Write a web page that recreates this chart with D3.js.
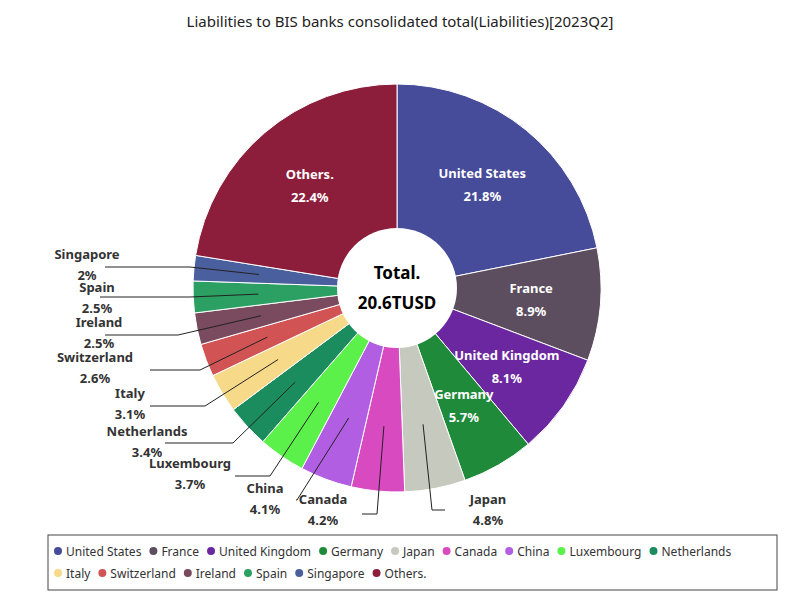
<!DOCTYPE html>
<html><head><meta charset="utf-8">
<script src="https://cdn.jsdelivr.net/npm/d3@7"></script>
<style>body{margin:0;background:#fff;font-family:"Noto Sans",sans-serif}</style>
</head><body><svg id="chart" width="800" height="600"></svg>
<script>
// Data
const countries = ["United States","France","United Kingdom","Germany","Japan","Canada","China","Luxembourg","Netherlands","Italy","Switzerland","Ireland","Spain","Singapore","Others."];
const shares = [21.8,8.9,8.1,5.7,4.8,4.2,4.1,3.7,3.4,3.1,2.6,2.5,2.5,2,22.4];
const colors = ["#464b9a","#5c4e5e","#6a27a0","#1e8a3a","#c6c9bd","#d84ac0","#b25ee2","#5cf04a","#1a8c5e","#f7d98a","#d25353","#7a4a5e","#2ba062","#4a5f9e","#8c1d3b"];
const insideLabels = ["United States","France","United Kingdom","Germany","Others."];
// label layout for outside labels: [text x, text y, line start x, line y, elbow x]
const outsideLayout = {
  "Japan":[488,504,445,510,432],
  "Canada":[323,504,362,514,377],
  "China":[265,493,296,500,297],
  "Luxembourg":[190,468,235,476,270],
  "Netherlands":[147,436,165,443,233],
  "Italy":[130,398,150,406,205],
  "Switzerland":[95,362,150,370,200],
  "Ireland":[99,327,105,335,178],
  "Spain":[97,292,100,297,190],
  "Singapore":[87,259,105,267,190]
};

const svg = d3.select("#chart");
svg.append("text").attr("x",400).attr("y",27).attr("text-anchor","middle")
  .style("font-size","15px").style("fill","#222")
  .text("Liabilities to BIS banks consolidated total(Liabilities)[2023Q2]");

const cx = 397, cy = 288, R = 204, r0 = 60;
const data = countries.map((c,i)=>({name:c,value:shares[i],color:colors[i]}));
const pie = d3.pie().value(d=>d.value).sort(null);
const arc = d3.arc().innerRadius(0).outerRadius(R);
const arcs = pie(data);
const g = svg.append("g").attr("transform",`translate(${cx},${cy})`);

g.selectAll("path").data(arcs).enter().append("path")
  .attr("d",arc).attr("fill",d=>d.data.color)
  .attr("stroke","#fff").attr("stroke-width",1);

g.append("circle").attr("r",r0).attr("fill","#fff");
g.append("text").attr("y",-9).attr("text-anchor","middle")
  .style("font-size","17px").style("font-weight","bold").text("Total.");
g.append("text").attr("y",21).attr("text-anchor","middle")
  .style("font-size","17px").style("font-weight","bold").text("20.6TUSD");

// inside labels
const labelArc = d3.arc().innerRadius(R*0.66).outerRadius(R*0.66);
arcs.filter(d=>insideLabels.includes(d.data.name)).forEach(d=>{
  const [x,y] = labelArc.centroid(d);
  const t = g.append("text").attr("text-anchor","middle")
    .style("font-size","13px").style("font-weight","bold").style("fill","#fff");
  t.append("tspan").attr("x",x).attr("y",y-6).text(d.data.name);
  t.append("tspan").attr("x",x).attr("y",y+17).text(d.data.value+"%");
});

// outside labels with leader lines
const pointArc = d3.arc().innerRadius(R*0.68).outerRadius(R*0.68);
arcs.filter(d=>outsideLayout[d.data.name]).forEach(d=>{
  const [tx,ty,sx,ly,ex] = outsideLayout[d.data.name];
  const [px,py] = pointArc.centroid(d);
  svg.append("polyline")
    .attr("points",`${sx},${ly} ${ex},${ly} ${px+cx},${py+cy}`)
    .attr("fill","none").attr("stroke","#222").attr("stroke-width",1);
  const t = svg.append("text").attr("text-anchor","middle")
    .style("font-size","13px").style("font-weight","bold").style("fill","#333");
  t.append("tspan").attr("x",tx).attr("y",ty).text(d.data.name);
  t.append("tspan").attr("x",tx).attr("y",ty+21).text(d.data.value+"%");
});

// legend
svg.append("rect").attr("x",48).attr("y",535).attr("width",729).attr("height",55)
  .attr("fill","#fff").attr("stroke","#444").attr("stroke-width",1);
const rows = [countries.slice(0,9), countries.slice(9)];
rows.forEach((row,ri)=>{
  let x = 58;
  row.forEach(name=>{
    const i = countries.indexOf(name);
    const lg = svg.append("g").attr("transform",`translate(${x},${551+ri*22})`);
    lg.append("circle").attr("r",4).attr("fill",colors[i]);
    const t = lg.append("text").attr("x",8).attr("y",4.5)
      .style("font-size","12px").style("fill","#333").text(name);
    x += 8 + t.node().getComputedTextLength() + 12;
  });
});
</script></body></html>
